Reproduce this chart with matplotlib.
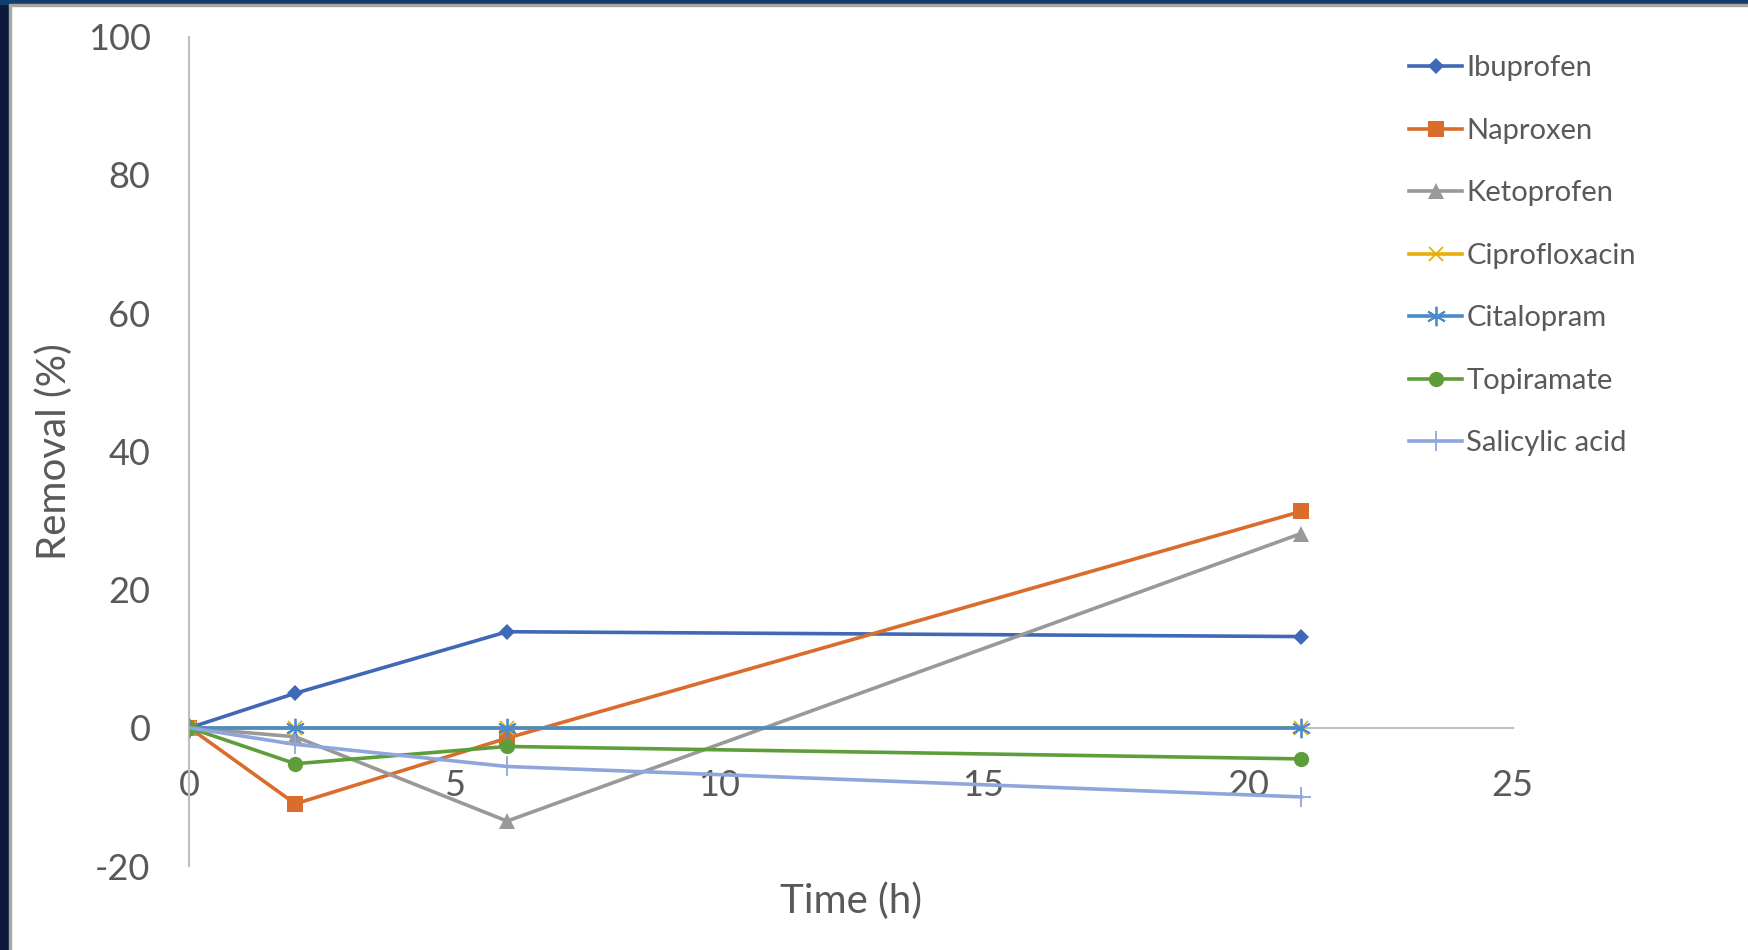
import matplotlib.pyplot as plt
from matplotlib.patches import Rectangle

# removal (%) vs time (h)
time_h = [0, 2, 6, 21]
ibuprofen = [0, 5.0, 13.9, 13.2]
naproxen = [0, -11.0, -1.5, 31.3]
ketoprofen = [0, -1.3, -13.5, 28.1]
ciprofloxacin = [0, 0, 0, 0]
citalopram = [0, 0, 0, 0]
topiramate = [0, -5.2, -2.7, -4.5]
salicylic = [0, -2.4, -5.6, -10.0]

names = ["Ibuprofen", "Naproxen", "Ketoprofen", "Ciprofloxacin",
         "Citalopram", "Topiramate", "Salicylic acid"]
colors = ["#3F68B6", "#DA6D2C", "#999999", "#E8AE0C",
          "#4A8BC9", "#5E9E3A", "#8FA6DC"]
markers = ["D", "s", "^", "x", (6, 2, 0), "o", "+"]
msizes = [8, 11, 11, 10, 14, 11, 14]

plt.rcParams['font.family'] = ['Lato', 'DejaVu Sans']
plt.rcParams['axes.unicode_minus'] = False
txt = "#595959"

fig = plt.figure(figsize=(17.48, 9.5), dpi=100)
ax = fig.add_axes([0.1084, 0.0884, 0.757, 0.873])

series = [ibuprofen, naproxen, ketoprofen, ciprofloxacin,
          citalopram, topiramate, salicylic]
for s, n, c, m, ms in zip(series, names, colors, markers, msizes):
    thin = m in ("x", "+") or isinstance(m, tuple)
    ax.plot(time_h, s, color=c, lw=2.6, marker=m, markersize=ms,
            markeredgewidth=1.3 if thin else 0,
            markeredgecolor=c, label=n, zorder=3)

ax.set_xlim(0, 25)
ax.set_ylim(-20, 100)
ax.set_xticks([0, 5, 10, 15, 20, 25])
ax.set_yticks(range(-20, 101, 20))

for sp in ["top", "right"]:
    ax.spines[sp].set_visible(False)
ax.spines["bottom"].set_position(("data", 0))
ax.spines["bottom"].set_color("#BFBFBF")
ax.spines["left"].set_color("#BFBFBF")
ax.spines["bottom"].set_linewidth(1.5)
ax.spines["left"].set_linewidth(1.5)
ax.tick_params(axis="x", length=0, pad=30, labelsize=26, labelcolor=txt)
ax.tick_params(axis="y", length=0, pad=28, labelsize=26, labelcolor=txt)

ax.set_xlabel("Time (h)", fontsize=29, color=txt)
ax.xaxis.set_label_coords(0.5, -0.02)
ax.set_ylabel("Removal (%)", fontsize=29, color=txt)
ax.yaxis.set_label_coords(-0.088, 0.5)

leg = ax.legend(loc="upper left", bbox_to_anchor=(0.902, 1.009), frameon=False,
                fontsize=21, labelcolor=txt, handlelength=1.8,
                handletextpad=0.15, labelspacing=1.25)

# slide border
fig.patches.append(Rectangle((0, 0), 9 / 1748, 1, transform=fig.transFigure,
                             color="#0B1A3C", zorder=10))
fig.patches.append(Rectangle((9 / 1748, 0), 2 / 1748, 1 - 4 / 950,
                             transform=fig.transFigure, color="#A6A6A6", zorder=10))
fig.patches.append(Rectangle((0, 1 - 4 / 950), 1, 4 / 950, transform=fig.transFigure,
                             color="#123E6E", zorder=10))
fig.patches.append(Rectangle((9 / 1748, 1 - 6 / 950), 1, 2 / 950,
                             transform=fig.transFigure, color="#A6A6A6", zorder=10))

fig.savefig("out.png", dpi=100)
